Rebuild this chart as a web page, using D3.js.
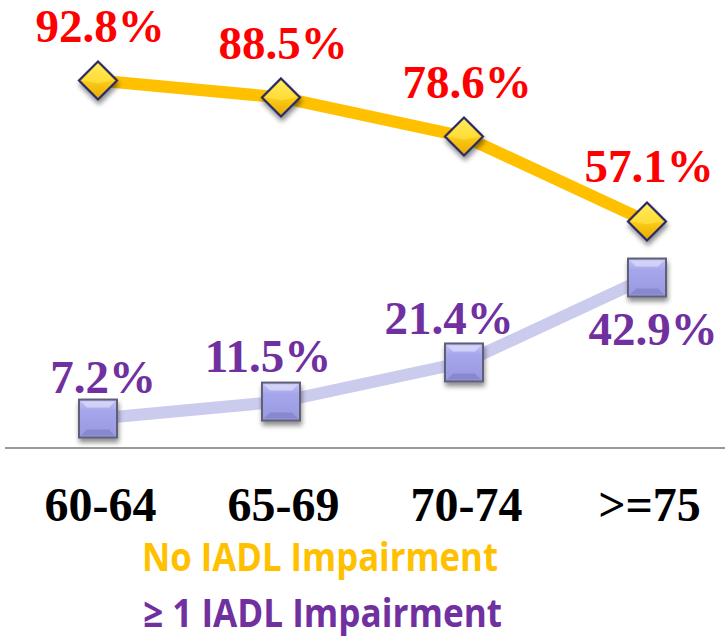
<!DOCTYPE html>
<html>
<head>
<meta charset="utf-8">
<script src="https://cdn.jsdelivr.net/npm/d3@7"></script>
<style>
  html, body { margin: 0; padding: 0; background: #ffffff; }
  svg { display: block; }
</style>
</head>
<body>
<svg id="chart" width="725" height="640"></svg>
<script>
// ---- Data ----
const categories = ["60-64", "65-69", "70-74", ">=75"];
const noImpairment = [92.8, 88.5, 78.6, 57.1];
const oneOrMoreImpairment = [7.2, 11.5, 21.4, 42.9];
const seriesNames = ["No IADL Impairment", "\u2265 1 IADL Impairment"];

// ---- Layout (label nudges relative to each marker, in px) ----
const topLabelNudge = [[2, -38], [2, -38], [3, -39], [2, -39]];
const bottomLabelNudge = [[5, -26], [-13, -30], [-15, -28], [6, 67]];

const svg = d3.select("#chart");
const W = 725, H = 640;

const x = d3.scalePoint().domain(categories).range([98, 647]);
const y = d3.scaleLinear().domain([0, 100]).range([447, 52]);

// defs: gradients and shadow
const defs = svg.append("defs");
const shadow = defs.append("filter").attr("id", "shadow")
  .attr("x", "-50%").attr("y", "-50%").attr("width", "200%").attr("height", "200%");
shadow.append("feGaussianBlur").attr("in", "SourceAlpha").attr("stdDeviation", 2.5).attr("result", "blur");
shadow.append("feOffset").attr("in", "blur").attr("dx", 1).attr("dy", 4).attr("result", "off");
shadow.append("feComponentTransfer").attr("in", "off").attr("result", "offA")
  .append("feFuncA").attr("type", "linear").attr("slope", 0.45);
const fm = shadow.append("feMerge");
fm.append("feMergeNode").attr("in", "offA");
fm.append("feMergeNode").attr("in", "SourceGraphic");

const gGold = defs.append("linearGradient").attr("id", "gold")
  .attr("x1", "0").attr("y1", "0").attr("x2", "0").attr("y2", "1");
gGold.append("stop").attr("offset", "0%").attr("stop-color", "#FFF06A");
gGold.append("stop").attr("offset", "45%").attr("stop-color", "#FFD21A");
gGold.append("stop").attr("offset", "100%").attr("stop-color", "#E8A800");

const gLav = defs.append("linearGradient").attr("id", "lav")
  .attr("x1", "0").attr("y1", "0").attr("x2", "0").attr("y2", "1");
gLav.append("stop").attr("offset", "0%").attr("stop-color", "#C4C4F4");
gLav.append("stop").attr("offset", "30%").attr("stop-color", "#A6A6EC");
gLav.append("stop").attr("offset", "100%").attr("stop-color", "#9898E0");

// baseline axis line
svg.append("line")
  .attr("x1", 5).attr("x2", W)
  .attr("y1", y(0) + 1).attr("y2", y(0) + 1)
  .attr("stroke", "#9a9a9a").attr("stroke-width", 2);

// x axis labels
const xAxis = d3.axisBottom(x).tickSize(0).tickPadding(0);
const gx = svg.append("g").attr("transform", `translate(2, ${y(0)})`).call(xAxis);
gx.select(".domain").remove();
gx.selectAll("text")
  .attr("dy", null)
  .attr("y", 74)
  .attr("fill", "#000")
  .style("font-family", "'Liberation Serif', 'Times New Roman', serif")
  .style("font-weight", "bold")
  .style("font-size", "48px");

const line = d3.line().x((d, i) => x(categories[i])).y(d => y(d));

// lines
svg.append("path").datum(oneOrMoreImpairment)
  .attr("d", line).attr("fill", "none")
  .attr("stroke", "#CBCBEE").attr("stroke-width", 12)
  .attr("stroke-linejoin", "round");

svg.append("path").datum(noImpairment)
  .attr("d", line).attr("fill", "none")
  .attr("stroke", "#FFC000").attr("stroke-width", 12)
  .attr("stroke-linejoin", "round");

// square markers
const sq = 38;
const sqG = svg.append("g").selectAll("g").data(oneOrMoreImpairment).join("g")
  .attr("transform", (d, i) => `translate(${x(categories[i])}, ${y(d)})`)
  .attr("filter", "url(#shadow)");
sqG.append("rect")
  .attr("x", -sq / 2).attr("y", -sq / 2).attr("width", sq).attr("height", sq)
  .attr("fill", "url(#lav)").attr("stroke", "#5E5E78").attr("stroke-width", 2);
sqG.append("path")
  .attr("d", `M${-sq/2+2},${-sq/2+2} L${sq/2-2},${-sq/2+2} L${sq/2-8},${-sq/2+8} L${-sq/2+8},${-sq/2+8} Z`)
  .attr("fill", "#D8D8FA").attr("opacity", 0.8);
sqG.append("path")
  .attr("d", `M${-sq/2+2},${sq/2-2} L${sq/2-2},${sq/2-2} L${sq/2-8},${sq/2-8} L${-sq/2+8},${sq/2-8} Z`)
  .attr("fill", "#8080C8").attr("opacity", 0.7);

// diamond markers
const dm = 19;
const dmG = svg.append("g").selectAll("g").data(noImpairment).join("g")
  .attr("transform", (d, i) => `translate(${x(categories[i])}, ${y(d)})`)
  .attr("filter", "url(#shadow)");
dmG.append("path")
  .attr("d", `M0,${-dm} L${dm},0 L0,${dm} L${-dm},0 Z`)
  .attr("fill", "url(#gold)").attr("stroke", "#2B2B66").attr("stroke-width", 2.2)
  .attr("stroke-linejoin", "miter");
dmG.append("path")
  .attr("d", `M0,${-dm+3} L${dm-3},0 L0,${dm*0.15} L${-dm+3},0 Z`)
  .attr("fill", "#FFE95A").attr("opacity", 0.55);

// value labels
const serif = "'Liberation Serif', 'Times New Roman', serif";
svg.append("g").selectAll("text").data(noImpairment).join("text")
  .attr("x", (d, i) => x(categories[i]) + topLabelNudge[i][0])
  .attr("y", (d, i) => y(d) + topLabelNudge[i][1])
  .attr("text-anchor", "middle")
  .attr("fill", "#FF0000")
  .style("font-family", serif).style("font-weight", "bold").style("font-size", "47px")
  .text(d => d.toFixed(1) + "%");

svg.append("g").selectAll("text").data(oneOrMoreImpairment).join("text")
  .attr("x", (d, i) => x(categories[i]) + bottomLabelNudge[i][0])
  .attr("y", (d, i) => y(d) + bottomLabelNudge[i][1])
  .attr("text-anchor", "middle")
  .attr("fill", "#7030A0")
  .style("font-family", serif).style("font-weight", "bold").style("font-size", "47px")
  .text(d => d.toFixed(1) + "%");

// legend
const legendColors = ["#FFC000", "#7030A0"];
const legendY = [571, 627];
const legendW = [356, 359];
svg.append("g").selectAll("text").data(seriesNames).join("text")
  .attr("x", (d, i) => i === 0 ? 142 : 143)
  .attr("y", (d, i) => legendY[i])
  .attr("fill", (d, i) => legendColors[i])
  .attr("textLength", (d, i) => legendW[i])
  .attr("lengthAdjust", "spacingAndGlyphs")
  .style("font-family", "'Open Sans', 'Noto Sans', sans-serif")
  .style("font-weight", "bold").style("font-size", "39px")
  .text(d => d);
</script>
</body>
</html>
